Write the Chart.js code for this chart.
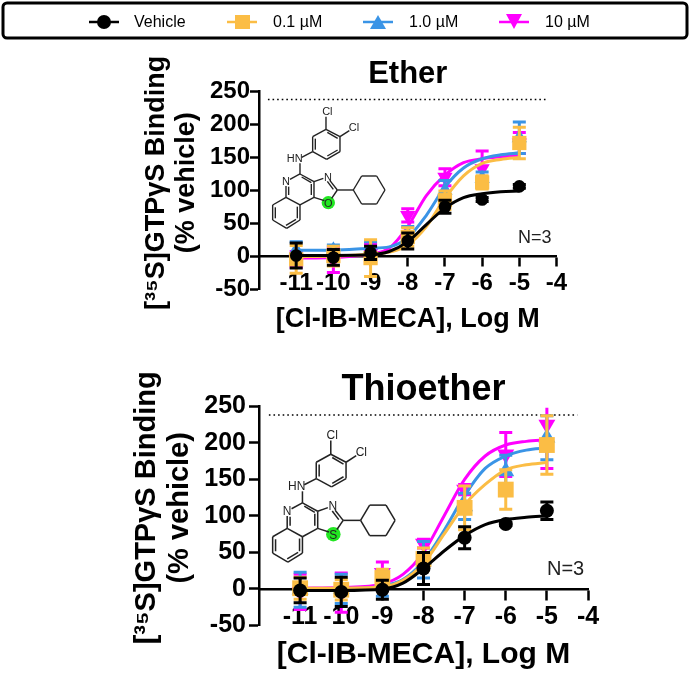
<!DOCTYPE html>
<html>
<head>
<meta charset="utf-8">
<style>
    body { margin: 0; background: #fff; width: 690px; height: 674px; overflow: hidden; }
    canvas, svg { position: absolute; left: 0; }
    #overlay { top: 0; font-family: "Liberation Sans", Arial, sans-serif; }
</style>
<script src="https://cdn.jsdelivr.net/npm/chart.js@4/dist/chart.umd.min.js"></script>
</head>
<body>
<canvas id="etherChart" width="690" height="300" style="top:40px"></canvas>
<canvas id="thioChart" width="690" height="334" style="top:340px"></canvas>
<svg id="overlay" width="690" height="674"></svg>
<script>
const doses = [-11, -10, -9, -8, -7, -6, -5]
const curveDoses = [-11, -10, -9, -8.5, -8, -7.5, -7, -6.5, -6, -5.5, -5]
const xTicks = [-11, -10, -9, -8, -7, -6, -5, -4]
const yTicks = [-50, 0, 50, 100, 150, 200, 250]
const maxLineY = 238

// Ether panel
const etherVehicle = [1, -2, 5, 23, 75, 86, 106]
const etherVehicleErr = [19, 12, 10, 12, 10, 3, 3]
const etherVehicleCurve = [1, 1, 2, 7, 22, 48, 73, 89, 95, 98, 99]
const etherLow = [-5, 0, -3, 29, 85, 112, 172]
const etherLowErr = [21, 15, 28, 14, 14, 10, 24]
const etherLowCurve = [-1, 0, 3, 6, 17, 45, 88, 122, 141, 147, 150]
const etherMid = [9, 9, 10, 34, 100, 118, 180]
const etherMidErr = [13, 8, 12, 11, 15, 10, 24]
const etherMidCurve = [9, 9, 12, 14, 28, 62, 105, 134, 148, 154, 157]
const etherHigh = [-5, -6, 4, 62, 120, 133, 172]
const etherHighErr = [12, 19, 15, 10, 13, 27, 16]
const etherHighCurve = [-3, -2, 3, 12, 45, 92, 123, 142, 148, 151, 153]

// Thioether panel
const thioVehicle = [-2, -4, -1, 28, 70, 89, 107]
const thioVehicleErr = [17, 20, 13, 22, 15, 2, 12]
const thioVehicleCurve = [-2, -2, 0, 8, 28, 52, 73, 88, 95, 98, 100]
const thioLow = [1, -1, 15, 41, 111, 136, 197]
const thioLowErr = [15, 14, 12, 15, 30, 27, 40]
const thioLowCurve = [1, 1, 3, 12, 35, 75, 115, 143, 163, 170, 173]
const thioMid = [-1, 0, 8, 40, 113, 161, 207]
const thioMidErr = [24, 20, 18, 25, 18, 22, 30]
const thioMidCurve = [0, 0, 4, 13, 38, 80, 128, 165, 182, 190, 193]
const thioHigh = [-4, -5, 22, 62, 136, 184, 225]
const thioHighErr = [24, 27, 15, 6, 7, 30, 60]
const thioHighCurve = [1, 2, 7, 20, 50, 100, 150, 182, 197, 202, 204]

const black = '#000000'
const orange = '#fbbd45'
const blue = '#3a94e6'
const pink = '#ff00ff'
const font = '"Liberation Sans", Arial, sans-serif'

function toPoints(xs, ys) {
    return xs.map((x, i) => ({ x: x, y: ys[i] }))
}

function series(label, color, style, rotation, size, values, errs, curve) {
    return [{
            label: label,
            data: toPoints(doses, values),
            err: errs,
            showLine: false,
            pointStyle: style,
            rotation: rotation,
            pointRadius: size,
            backgroundColor: color,
            borderColor: color,
            borderWidth: 0,
            clip: false
        },
        {
            label: label + ' fit',
            data: toPoints(curveDoses, curve),
            showLine: true,
            pointRadius: 0,
            borderColor: color,
            borderWidth: 3,
            cubicInterpolationMode: 'monotone',
            clip: false
        }]
}

function dottedLine(y, start) {
    return {
        label: 'ref ' + y,
        data: [{ x: start, y: y }, { x: -4.26, y: y }],
        showLine: true,
        pointRadius: 0,
        borderColor: black,
        borderWidth: 1.6,
        borderDash: [1.6, 3],
        clip: false
    }
}

// whiskers go under the marker of their own series
const errorBars = {
    id: 'errorBars',
    beforeDatasetDraw(chart, args) {
        const ds = chart.data.datasets[args.index]
        if (!ds.err)
            return
        const xs = chart.scales.x, ys = chart.scales.y, ctx = chart.ctx
        ctx.save()
        ctx.strokeStyle = ds.borderColor
        ctx.lineWidth = 3
        ds.data.forEach((p, i) => {
            const px = xs.getPixelForValue(p.x)
            const hi = p.y + ds.err[i]
            const top = ys.getPixelForValue(Math.min(hi, 248))
            const bottom = ys.getPixelForValue(p.y - ds.err[i])
            ctx.beginPath()
            ctx.moveTo(px, top)
            ctx.lineTo(px, bottom)
            ctx.moveTo(px - 6.5, bottom)
            ctx.lineTo(px + 6.5, bottom)
            if (hi <= 248) {
                ctx.moveTo(px - 6.5, top)
                ctx.lineTo(px + 6.5, top)
            }
            ctx.stroke()
        })
        ctx.restore()
    }
}

function panel(id, cfg) {
    const datasets = [
        ...series('Vehicle', black, 'circle', 0, cfg.marker, cfg.vehicle, cfg.vehicleErr, cfg.vehicleCurve),
        ...series('0.1 µM', orange, 'rect', 0, cfg.marker * 1.6, cfg.low, cfg.lowErr, cfg.lowCurve),
        ...series('1.0 µM', blue, 'triangle', 0, cfg.marker * 1.4, cfg.mid, cfg.midErr, cfg.midCurve),
        ...series('10 µM', pink, 'triangle', 180, cfg.marker * 1.4, cfg.high, cfg.highErr, cfg.highCurve),
        dottedLine(maxLineY, -11.76),
        dottedLine(0, -11.96)
    ]
    const config = {
        type: 'scatter',
        data: { datasets: datasets },
        plugins: [errorBars],
        options: {
            responsive: false,
            animation: false,
            layout: { padding: { left: cfg.yTitleLeft, right: 690 - cfg.right, top: 0, bottom: 0 } },
            plugins: {
                legend: { display: false },
                tooltip: { enabled: false },
                title: {
                    display: true,
                    text: cfg.title,
                    color: black,
                    fullSize: false,
                    font: { family: font, size: cfg.titleSize, weight: 'bold', lineHeight: cfg.titleLine },
                    padding: { top: cfg.titleTop, bottom: cfg.titleBottom }
                },
                subtitle: {
                    display: true,
                    position: 'bottom',
                    text: '[Cl-IB-MECA], Log M',
                    color: black,
                    fullSize: false,
                    font: { family: font, size: cfg.xTitleSize, weight: 'bold', lineHeight: 1 },
                    padding: { top: cfg.xTitleTop, bottom: cfg.xTitleBottom }
                }
            },
            scales: {
                x: {
                    type: 'linear',
                    position: { y: 0 },
                    min: -12,
                    max: -4,
                    afterBuildTicks: s => { s.ticks = xTicks.map(v => ({ value: v })) },
                    afterFit: s => { s.height = 0 },
                    border: { display: true, color: black, width: 2.5 },
                    grid: { drawOnChartArea: false, drawTicks: true, tickLength: cfg.tick, tickWidth: 2.5, tickColor: black },
                    ticks: {
                        autoSkip: false,
                        maxRotation: 0,
                        color: black,
                        padding: cfg.xTickPad,
                        font: { family: font, size: cfg.tickSize, weight: 'bold' },
                        callback: v => String(v)
                    }
                },
                y: {
                    min: -50,
                    max: 250,
                    afterBuildTicks: s => { s.ticks = yTicks.map(v => ({ value: v })) },
                    afterFit: s => { s.width = 259 - cfg.yTitleLeft },
                    border: { display: true, color: black, width: 2.5 },
                    grid: { drawOnChartArea: false, drawTicks: true, tickLength: cfg.tick, tickWidth: 2.5, tickColor: black },
                    ticks: {
                        color: black,
                        padding: cfg.yTickPad,
                        font: { family: font, size: cfg.tickSize, weight: 'bold' },
                        callback: v => String(v)
                    },
                    title: {
                        display: true,
                        // the leading spaces lift the title a little above the middle of the axis
                        text: ['\u00a0\u00a0[³⁵S]GTPγS Binding', '\u00a0\u00a0(% vehicle)'],
                        color: black,
                        padding: 0,
                        font: { family: font, size: cfg.yTitleSize, weight: 'bold', lineHeight: cfg.yTitleLine }
                    }
                }
            }
        }
    }
    new Chart(document.getElementById(id).getContext('2d'), config)
}

panel('etherChart', {
    title: 'Ether', titleSize: 31, titleLine: 0.88, titleTop: 20.4, titleBottom: 4,
    xTitleSize: 27, xTitleTop: 17.5, xTitleBottom: 6.5,
    yTitleSize: 27, yTitleLine: 1.11, yTitleLeft: 142, right: 556.5, tick: 9, tickSize: 24, xTickPad: 3.6, yTickPad: 0, marker: 6.3,
    vehicle: etherVehicle, vehicleErr: etherVehicleErr, vehicleCurve: etherVehicleCurve,
    low: etherLow, lowErr: etherLowErr, lowCurve: etherLowCurve,
    mid: etherMid, midErr: etherMidErr, midCurve: etherMidCurve,
    high: etherHigh, highErr: etherHighErr, highCurve: etherHighCurve
})
panel('thioChart', {
    title: 'Thioether', titleSize: 36, titleLine: 0.8, titleTop: 35.5, titleBottom: 2,
    xTitleSize: 30, xTitleTop: 14.5, xTitleBottom: 4,
    yTitleSize: 29, yTitleLine: 1.14, yTitleLeft: 130.5, right: 588, tick: 10, tickSize: 25, xTickPad: 3, yTickPad: 3, marker: 7,
    vehicle: thioVehicle, vehicleErr: thioVehicleErr, vehicleCurve: thioVehicleCurve,
    low: thioLow, lowErr: thioLowErr, lowCurve: thioLowCurve,
    mid: thioMid, midErr: thioMidErr, midCurve: thioMidCurve,
    high: thioHigh, highErr: thioHighErr, highCurve: thioHighCurve
})

// chemical structure, same drawing for both panels
const bonds = [
    [368,170,408,148],[408,148,450,170],[450,170,450,215],[450,215,410,238],[410,238,368,215],[368,215,368,170],
    [376,209,376,176],[412,157,443,175],[443,210,412,228],
    [408,148,408,110],[450,170,478,152],[368,215,335,232],[330,250,330,282],
    [330,282,300,298],[330,282,372,305],[372,305,372,352],[372,352,330,375],[330,375,288,352],[288,352,288,318],
    [335,291,364,308],[364,312,364,345],[296,320,296,345],
    [372,305,400,295],[420,302,442,330],[442,330,425,355],[403,362,372,352],[412,304,430,328],
    [442,330,490,330],[490,330,515,288],[515,288,560,288],[560,288,585,330],[585,330,560,372],[560,372,515,372],[515,372,490,330],
    [288,352,248,375],[248,375,248,420],[248,420,290,445],[290,445,330,420],[330,420,330,375],
    [322,380,322,415],[288,436,318,418],[256,382,256,415]
]
const atoms = [['Cl',412,106],['Cl',492,152],['HN',314,246],['N',288,316],['N',414,302]]

function molecule(hetero, transform) {
    let s = `<g transform="${transform}"><circle cx="415" cy="368" r="20" fill="#22e622"/>`
    bonds.forEach(b => {
        s += `<line x1="${b[0]}" y1="${b[1]}" x2="${b[2]}" y2="${b[3]}" stroke="#222" stroke-width="4.2"/>`
    })
    atoms.forEach(a => {
        s += `<text x="${a[1]}" y="${a[2]}" font-size="33" text-anchor="middle" fill="#222">${a[0]}</text>`
    })
    s += `<text x="415" y="380" font-size="33" text-anchor="middle" fill="#222">${hetero}</text></g>`
    return s
}

function legendItem(x, textX, label, color, shape) {
    return `<line x1="${x - 15}" y1="22" x2="${x + 15}" y2="22" stroke="${color}" stroke-width="2.5"/>` +
        shape.replace('COLOR', color) +
        `<text x="${textX}" y="27" font-size="16" fill="#000">${label}</text>`
}

let svg = '<rect x="3" y="3" width="684" height="35" rx="4" fill="#fff" stroke="#000" stroke-width="3"/>'
svg += legendItem(104, 134, 'Vehicle', black, '<circle cx="104" cy="22" r="7" fill="COLOR"/>')
svg += legendItem(242, 273, '0.1 µM', orange, '<rect x="235" y="15" width="15" height="14" fill="COLOR"/>')
svg += legendItem(378, 409, '1.0 µM', blue, '<polygon points="378,15 386,29 370,29" fill="COLOR"/>')
svg += legendItem(514, 545, '10 µM', pink, '<polygon points="514,29 522,14 506,14" fill="COLOR"/>')
svg += molecule('O', 'translate(190,80) scale(0.3333)')
svg += molecule('S', 'translate(190,400) scale(0.3333) translate(248,105) scale(1.09) translate(-248,-95)')
svg += '<text x="518" y="243" font-size="18" fill="#222">N=3</text>'
svg += '<text x="547" y="575" font-size="20" fill="#222">N=3</text>'
document.getElementById('overlay').innerHTML = svg
</script>
</body>
</html>
